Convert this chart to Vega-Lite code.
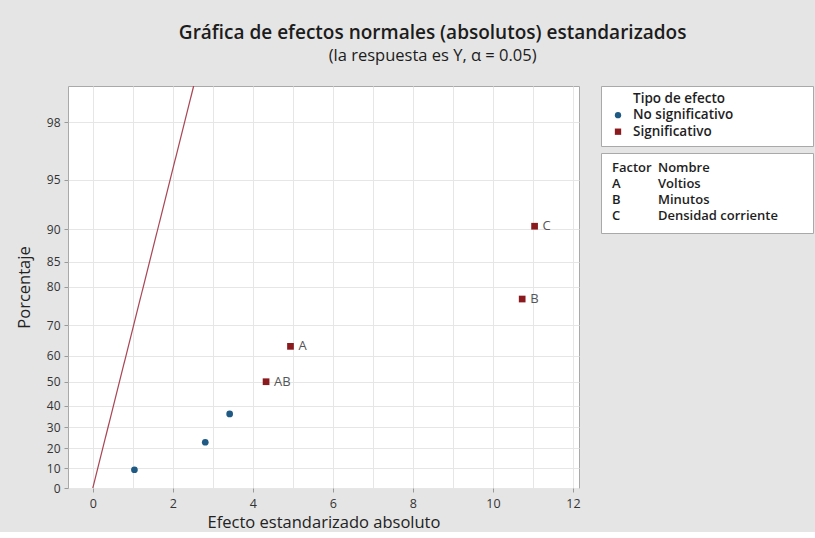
{
  "$schema": "https://vega.github.io/schema/vega-lite/v6.json",
  "background": "#e5e5e5",
  "padding": {"left": 15, "top": 24, "right": 3, "bottom": 0},
  "config": {
    "font": "Open Sans",
    "view": {"fill": "white", "stroke": "#a9a9a9", "strokeWidth": 1}
  },
  "title": {
    "text": "Gráfica de efectos normales (absolutos) estandarizados",
    "subtitle": "(la respuesta es Y, α = 0.05)",
    "font": "Open Sans",
    "fontSize": 19,
    "fontWeight": 600,
    "color": "#1c1c1c",
    "subtitleFont": "Open Sans",
    "subtitleFontSize": 16.5,
    "subtitleColor": "#1c1c1c",
    "subtitlePadding": 5,
    "anchor": "middle",
    "dx": 18,
    "offset": 21
  },
  "datasets": {
    "efectos": [
      {"efecto": 1.04, "puntaje": 0.116, "tipo": "No significativo"},
      {"efecto": 2.81, "puntaje": 0.291, "tipo": "No significativo"},
      {"efecto": 3.42, "puntaje": 0.471, "tipo": "No significativo"},
      {"efecto": 4.33, "puntaje": 0.676, "tipo": "Significativo", "termino": "AB"},
      {"efecto": 4.94, "puntaje": 0.901, "tipo": "Significativo", "termino": "A"},
      {"efecto": 10.73, "puntaje": 1.202, "tipo": "Significativo", "termino": "B"},
      {"efecto": 11.04, "puntaje": 1.665, "tipo": "Significativo", "termino": "C"}
    ],
    "linea": [
      {"efecto": 0, "puntaje": 0},
      {"efecto": 2.52, "puntaje": 2.557}
    ],
    "tipos": [
      {"tipo": "No significativo"},
      {"tipo": "Significativo"}
    ],
    "factores": [
      {"factor": "A", "nombre": "Voltios"},
      {"factor": "B", "nombre": "Minutos"},
      {"factor": "C", "nombre": "Densidad corriente"}
    ]
  },
  "spacing": 19,
  "hconcat": [
    {
      "width": 511,
      "height": 402,
      "layer": [
        {
          "data": {"name": "linea"},
          "mark": {"type": "line", "color": "#a84653", "strokeWidth": 1.2, "clip": true},
          "encoding": {
            "x": {
              "field": "efecto", "type": "quantitative",
              "scale": {"domain": [-0.62, 12.15], "nice": false, "zero": false},
              "axis": {
                "title": "Efecto estandarizado absoluto",
                "values": [0, 1, 2, 3, 4, 5, 6, 7, 8, 9, 10, 11, 12],
                "labelExpr": "datum.value % 2 === 0 ? format(datum.value, 'd') : ''",
                "labelOverlap": false,
                "grid": true, "gridColor": "#e6e6e6",
                "domain": false,
                "tickColor": "#9a9a9a", "tickSize": 4,
                "tickOpacity": {"condition": {"test": "datum.value % 2 === 1", "value": 0}, "value": 1},
                "labelFont": "Open Sans", "labelFontSize": 12.5, "labelColor": "#333333", "labelPadding": 5,
                "titleFont": "Open Sans", "titleFontSize": 16.5, "titleFontWeight": "normal", "titleColor": "#222222", "titlePadding": 5
              }
            },
            "y": {
              "field": "puntaje", "type": "quantitative",
              "scale": {"domain": [0, 2.557], "nice": false, "zero": false},
              "axis": {
                "title": "Porcentaje",
                "values": [0, 0.12566, 0.25335, 0.38532, 0.5244, 0.67449, 0.84162, 1.03643, 1.28155, 1.43953, 1.64485, 1.95996, 2.32635],
                "tickCount": 20,
                "labelExpr": "format(100 * (2 * cumulativeNormal(datum.value) - 1), '.0f')",
                "labelOverlap": false,
                "grid": true, "gridColor": "#e6e6e6",
                "domain": false,
                "tickColor": "#9a9a9a", "tickSize": 4,
                "labelFont": "Open Sans", "labelFontSize": 12, "labelColor": "#333333", "labelPadding": 4,
                "titleFont": "Open Sans", "titleFontSize": 16.5, "titleFontWeight": "normal", "titleColor": "#222222", "titlePadding": 14
              }
            }
          }
        },
        {
          "data": {"name": "efectos"},
          "mark": {"type": "point", "filled": true, "opacity": 1, "size": 45},
          "encoding": {
            "x": {"field": "efecto", "type": "quantitative"},
            "y": {"field": "puntaje", "type": "quantitative"},
            "color": {
              "field": "tipo", "type": "nominal",
              "scale": {"domain": ["No significativo", "Significativo"], "range": ["#1f5a85", "#8b1a1f"]},
              "legend": null
            },
            "shape": {
              "field": "tipo", "type": "nominal",
              "scale": {"domain": ["No significativo", "Significativo"], "range": ["circle", "square"]},
              "legend": null
            }
          }
        },
        {
          "data": {"name": "efectos"},
          "transform": [{"filter": "datum.tipo === 'Significativo'"}],
          "mark": {"type": "text", "align": "left", "baseline": "middle", "dx": 8, "fontSize": 13, "color": "#555555"},
          "encoding": {
            "x": {"field": "efecto", "type": "quantitative"},
            "y": {"field": "puntaje", "type": "quantitative"},
            "text": {"field": "termino"}
          }
        }
      ]
    },
    {
      "spacing": 5,
      "vconcat": [
        {
          "width": 212,
          "height": 60,
          "layer": [
            {
              "data": {"values": [{"titulo": "Tipo de efecto"}]},
              "mark": {"type": "text", "align": "left", "baseline": "middle", "dx": 15, "fontSize": 13.5, "fontWeight": 600, "color": "#1e1e1e"},
              "encoding": {
                "x": {"datum": "símbolo", "type": "nominal",
                  "scale": {"type": "point", "domain": ["símbolo"], "align": 0.0802},
                  "axis": null},
                "y": {"field": "titulo", "type": "nominal",
                  "scale": {"type": "point", "domain": ["Tipo de efecto", "No significativo", "Significativo"], "padding": 0.818, "align": 0.47},
                  "axis": null},
                "text": {"field": "titulo"}
              }
            },
            {
              "data": {"name": "tipos"},
              "mark": {"type": "point", "filled": true, "opacity": 1, "size": 40},
              "encoding": {
                "x": {"datum": "símbolo", "type": "nominal"},
                "y": {"field": "tipo", "type": "nominal"},
                "color": {"field": "tipo", "type": "nominal", "legend": null},
                "shape": {"field": "tipo", "type": "nominal", "legend": null}
              }
            },
            {
              "data": {"name": "tipos"},
              "mark": {"type": "text", "align": "left", "baseline": "middle", "dx": 15, "fontSize": 13.5, "fontWeight": 600, "color": "#1e1e1e"},
              "encoding": {
                "x": {"datum": "símbolo", "type": "nominal"},
                "y": {"field": "tipo", "type": "nominal"},
                "text": {"field": "tipo"}
              }
            }
          ]
        },
        {
          "width": 212,
          "height": 80,
          "layer": [
            {
              "data": {"values": [{"columna": "Factor"}]},
              "mark": {"type": "text", "align": "left", "baseline": "middle", "fontSize": 13, "fontWeight": 600, "color": "#1e1e1e"},
              "encoding": {
                "x": {"datum": "Factor", "type": "nominal",
                  "scale": {"type": "point", "domain": ["Factor"], "align": 0.0519},
                  "axis": null},
                "y": {"datum": "encabezado", "type": "nominal",
                  "scale": {"type": "band", "domain": ["encabezado", "A", "B", "C"], "paddingInner": 0, "paddingOuter": 0.5, "align": 0.4375},
                  "axis": null},
                "text": {"field": "columna"}
              }
            },
            {
              "data": {"values": [{"columna": "Nombre"}]},
              "mark": {"type": "text", "align": "left", "baseline": "middle", "dx": 46, "fontSize": 13, "fontWeight": 600, "color": "#1e1e1e"},
              "encoding": {
                "x": {"datum": "Factor", "type": "nominal"},
                "y": {"datum": "encabezado", "type": "nominal"},
                "text": {"field": "columna"}
              }
            },
            {
              "data": {"name": "factores"},
              "mark": {"type": "text", "align": "left", "baseline": "middle", "fontSize": 13, "fontWeight": 600, "color": "#1e1e1e"},
              "encoding": {
                "x": {"datum": "Factor", "type": "nominal"},
                "y": {"field": "factor", "type": "nominal"},
                "text": {"field": "factor"}
              }
            },
            {
              "data": {"name": "factores"},
              "mark": {"type": "text", "align": "left", "baseline": "middle", "dx": 46, "fontSize": 13, "fontWeight": 600, "color": "#1e1e1e"},
              "encoding": {
                "x": {"datum": "Factor", "type": "nominal"},
                "y": {"field": "factor", "type": "nominal"},
                "text": {"field": "nombre"}
              }
            }
          ]
        }
      ]
    }
  ]
}
